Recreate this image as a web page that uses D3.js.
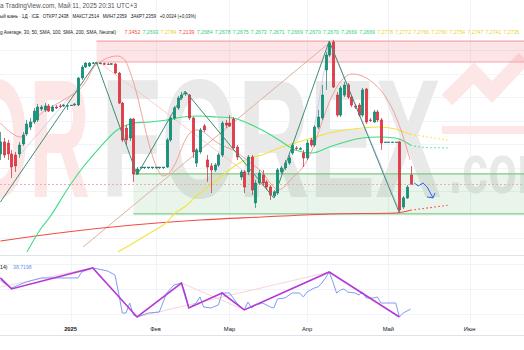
<!DOCTYPE html>
<html>
<head>
<meta charset="utf-8">
<script src="https://cdn.jsdelivr.net/npm/d3@7/dist/d3.min.js"></script>
<style>
  body { margin: 0; background: #fff; }
  svg { display: block; font-family: "Liberation Sans", Arial, sans-serif; }
</style>
</head>
<body>
<svg width="524" height="350"></svg>
<script>
// daily bars, 4 Dec 2024 .. 9 May 2025 (flat bars = Chinese holidays)
const open = [7.2617,7.2719,7.2710,7.2617,7.2608,7.2617,7.2702,7.2787,7.2846,7.2889,7.2906,7.2999,7.2991,7.3025,7.2982,7.3016,7.3025,7.3025,7.3025,7.3033,
  7.3033,7.3033,7.3263,7.3356,7.3365,7.3390,7.3392,7.3388,7.3385,7.3382,7.3382,7.3382,7.3305,7.3050,7.2838,7.2753,7.2914,7.2447,7.2506,7.2506,
  7.2506,7.2506,7.2506,7.2506,7.2506,7.2506,7.2736,7.2923,7.3008,7.3093,7.3127,7.3118,7.2923,7.2540,7.2634,7.2855,7.2566,7.2515,7.2481,7.2523,
  7.2608,7.2880,7.2880,7.2914,7.2676,7.2421,7.2464,7.2464,7.2591,7.2200,7.2370,7.2438,7.2379,7.2336,7.2260,7.2285,7.2464,7.2498,7.2540,7.2625,
  7.2668,7.2659,7.2625,7.2583,7.2736,7.2693,7.2846,7.2923,7.3331,7.3458,7.3569,7.3118,7.2948,7.3118,7.3203,7.3101,7.3025,7.3033,7.2948,7.3169,
  7.2906,7.2889,7.2974,7.2906,7.2719,7.2719,7.2719,7.2719,7.2719,7.2166,7.2243,7.2438];
const high = [7.2804,7.2753,7.2736,7.2651,7.2634,7.2719,7.2804,7.2906,7.2923,7.3008,7.3042,7.3033,7.3050,7.3042,7.3033,7.3033,7.3042,7.3042,7.3042,7.3033,
  7.3050,7.3271,7.3373,7.3399,7.3399,7.3399,7.3399,7.3395,7.3393,7.3392,7.3390,7.3390,7.3314,7.3059,7.2863,7.2923,7.2923,7.2506,7.2506,7.2506,
  7.2506,7.2506,7.2506,7.2506,7.2506,7.2753,7.2940,7.3025,7.3110,7.3144,7.3152,7.3127,7.2931,7.2668,7.2838,7.2872,7.2608,7.2540,7.2540,7.2625,
  7.2897,7.2906,7.2948,7.2931,7.2693,7.2481,7.2481,7.2608,7.2608,7.2396,7.2481,7.2481,7.2396,7.2353,7.2311,7.2498,7.2515,7.2566,7.2608,7.2710,
  7.2685,7.2676,7.2651,7.2736,7.2753,7.2863,7.2991,7.3203,7.3484,7.3577,7.3586,7.3144,7.3195,7.3229,7.3220,7.3118,7.3042,7.3050,7.3178,7.3178,
  7.2923,7.2991,7.2991,7.2923,7.2719,7.2719,7.2719,7.2719,7.2727,7.2260,7.2353,7.2514];
const low = [7.2566,7.2583,7.2566,7.2413,7.2464,7.2583,7.2685,7.2770,7.2821,7.2872,7.2889,7.2982,7.2974,7.2974,7.2974,7.2999,7.3008,7.3016,7.2991,7.3033,
  7.3025,7.3025,7.3246,7.3348,7.3356,7.3382,7.3382,7.3380,7.3375,7.3373,7.3373,7.3297,7.3042,7.2719,7.2685,7.2727,7.2379,7.2438,7.2489,7.2489,
  7.2489,7.2489,7.2489,7.2489,7.2489,7.2498,7.2719,7.2906,7.2991,7.3076,7.3110,7.2906,7.2583,7.2506,7.2617,7.2804,7.2379,7.2285,7.2464,7.2506,
  7.2591,7.2838,7.2846,7.2651,7.2566,7.2396,7.2285,7.2438,7.2268,7.2157,7.2353,7.2345,7.2311,7.2226,7.2243,7.2268,7.2447,7.2481,7.2523,7.2608,
  7.2651,7.2651,7.2506,7.2566,7.2676,7.2676,7.2829,7.2906,7.3161,7.3441,7.3178,7.2931,7.2931,7.3101,7.3084,7.3016,7.2999,7.2931,7.2931,7.2872,
  7.2889,7.2880,7.2889,7.2651,7.2712,7.2712,7.2712,7.2712,7.2115,7.2149,7.2234,7.2359];
const close = [7.2719,7.2608,7.2617,7.2506,7.2515,7.2693,7.2778,7.2872,7.2889,7.2982,7.3016,7.3016,7.3025,7.2982,7.3016,7.3008,7.3022,7.3033,7.3028,7.3033,
  7.3042,7.3263,7.3356,7.3390,7.3390,7.3392,7.3388,7.3390,7.3382,7.3380,7.3384,7.3305,7.3050,7.2736,7.2736,7.2914,7.2447,7.2489,7.2506,7.2506,
  7.2506,7.2506,7.2506,7.2506,7.2506,7.2736,7.2923,7.3008,7.3093,7.3118,7.3135,7.2923,7.2634,7.2651,7.2821,7.2821,7.2506,7.2481,7.2523,7.2608,
  7.2880,7.2863,7.2855,7.2668,7.2591,7.2464,7.2336,7.2591,7.2311,7.2370,7.2455,7.2370,7.2336,7.2268,7.2294,7.2481,7.2498,7.2540,7.2583,7.2693,
  7.2665,7.2662,7.2583,7.2710,7.2693,7.2846,7.2931,7.3118,7.3458,7.3560,7.3186,7.2948,7.3178,7.3203,7.3101,7.3033,7.3016,7.2948,7.3161,7.2889,
  7.2903,7.2974,7.2906,7.2710,7.2719,7.2719,7.2719,7.2719,7.2141,7.2243,7.2335,7.2359];

const monthLabels = ["2025", "Фев", "Мар", "Апр", "Май", "Июн"];
const monthBars = [19, 42, 62, 83, 105, 127];

// moving averages: [bar, price]
const maFast = [[0,7.2880],[3.4,7.2787],[5.3,7.2761],[8.8,7.2889],[11.5,7.2974],[13.4,7.3008],[18,7.3093],[20.7,7.3144],[23.4,7.3246],[25.1,7.3348],
  [27,7.3399],[29.7,7.3441],[31.6,7.3450],[33.7,7.3416],[35.1,7.3314],[37,7.3118],[38.6,7.2906],[40.5,7.2668],[42.4,7.2498],[44,7.2430],
  [45.9,7.2464],[47.8,7.2566],[49.4,7.2693],[51.3,7.2795],[53.2,7.2821],[54.9,7.2804],[57.6,7.2736],[60.3,7.2685],[63,7.2651],[65.7,7.2591],
  [68.4,7.2523],[70.8,7.2464],[73.5,7.2353],[75.2,7.2311],[77.1,7.2345],[79,7.2413],[81.7,7.2498],[84.4,7.2651],[86.5,7.2838],[88.7,7.3033],
  [91.4,7.3203],[93.3,7.3271],[95.2,7.3297],[97.9,7.3280],[100.6,7.3229],[103.3,7.3144],[106,7.3008],[108.7,7.2795],[110.9,7.2566]];
const ma30 = [[7.2,7.1784],[10.7,7.1971],[13.4,7.2081],[18,7.2311],[22.4,7.2506],[27,7.2676],[31.6,7.2821],[34.3,7.2863],[35.9,7.2880],[40.5,7.2889],
  [45.1,7.2906],[49.4,7.2931],[54,7.2940],[58.7,7.2931],[63,7.2923],[66.8,7.2880],[70.8,7.2821],[75.4,7.2736],[79.8,7.2651],[84.4,7.2625],
  [89,7.2676],[93.3,7.2719],[97.9,7.2753],[102.5,7.2761],[106.9,7.2753],[111,7.2693]];
const ma50 = [[31.8,7.1784],[40.5,7.1945],[45.1,7.2039],[47.3,7.2115],[49.4,7.2157],[54,7.2285],[58.7,7.2396],[63,7.2506],[67.6,7.2583],[70.8,7.2608],
  [75.4,7.2668],[79.8,7.2710],[84.4,7.2753],[89,7.2795],[93.3,7.2821],[97.9,7.2838],[102.5,7.2846],[106.9,7.2829],[111,7.2784]];
const ma200 = [[0,7.1877],[18,7.1954],[35.9,7.2013],[54,7.2056],[70.8,7.2081],[89,7.2107],[106.9,7.2115],[111,7.2139]];
const ma30Proj = [7.2693,7.2684,7.2678,7.2675,7.2673,7.2671,7.2669,7.2670,7.2670,7.2669,7.2669];
const ma50Proj = [7.2784,7.2778,7.2772,7.2766,7.2760,7.2754,7.2747,7.2741,7.2735];
const ma200Proj = [[111,7.2139],[121,7.2180]];

const zigzag = [[0,7.2209],[26,7.3399],[37,7.2438],[50,7.3152],[74,7.2243],[89,7.3577],[108,7.2115]];
const zigzagThin = [[[5,7.2600],[22,7.3220]],[[85,7.2846],[89,7.3577],[108,7.2141]]];
const trendTan = [[22.4,7.1826],[89.3,7.3569]];
const trendPink = [[27,7.3390],[73,7.2302]];
const forecast = [[112,7.2370],[113.1,7.2345],[114.4,7.2370],[115.5,7.2336],[117.1,7.2243]];
const supplyZone = { from: 26, top: 7.3577, bottom: 7.3399 };
const demandZone = { from: 36, top: 7.2447, bottom: 7.2107 };
const lastPrice = 7.2359;

// lower pane
const osc = [[0,62.3],[1,59.9],[3,55.9],[7,60.7],[11,64.0],[14,64.0],[18,64.0],[21,64.0],[22,68.8],[25,72.1],[29,69.6],[31,66.4],[32,51.8],[33,35.6],
  [34,35.6],[35,43.7],[36,34.0],[37,32.4],[40,35.6],[43,36.4],[45,51.8],[47,58.3],[49,59.9],[50,51.8],[51,39.7],[53,43.7],[54,48.6],[55,40.5],
  [57,39.7],[59,42.1],[60,51.8],[62,51.8],[64,43.7],[66,38.1],[67,44.5],[68,39.7],[69,42.1],[71,43.7],[73,40.5],[74,39.7],[75,47.0],[77,47.8],
  [79,51.8],[81,51.8],[82,48.6],[83,52.6],[85,55.9],[86,56.7],[87,59.9],[88,64.0],[89,68.8],[90,60.7],[91,51.8],[92,54.2],[93,55.1],[94,52.6],
  [96,51.8],[97,50.2],[98,52.6],[99,47.8],[101,47.8],[102,48.6],[103,43.7],[104,43.7],[107,43.7],[108,32.4],[109,35.6],[111,38.7198]];
const oscZigzag = [[0,64.0],[3,55.1],[25,72.1],[37,32.4],[49,59.9],[51,39.7],[60,51.8],[66,38.1],[89,68.8],[108,32.4]];
const oscLines = [[[0,56.7],[25,72.1]],[[37,32.4],[89,68.8]],[[49,59.9],[66,38.1]]];

const svg = d3.select("svg");
const W = 524, mainBottom = 255, oscTop = 256, oscBottom = 322, axisBottom = 335;

const x = d3.scaleLinear().domain([0, 111]).range([0.4, 410.5]);
const y = d3.scaleLinear().domain([7.2115, 7.3586]).range([213, 40]);
const yo = d3.scaleLinear().domain([17, 85]).range([336, 252]);

const defs = svg.append("defs");
defs.append("clipPath").attr("id", "clipMain").append("rect").attr("width", W).attr("height", mainBottom);
defs.append("clipPath").attr("id", "clipOsc").append("rect").attr("y", oscTop).attr("width", W).attr("height", oscBottom - oscTop);

// grid
const grid = svg.append("g").attr("stroke", "#f0f3fa").attr("stroke-width", 1);
monthBars.forEach(b => grid.append("line").attr("x1", Math.round(x(b)) + 0.5).attr("x2", Math.round(x(b)) + 0.5).attr("y1", 0).attr("y2", oscBottom));
[7.35, 7.33, 7.31, 7.29, 7.27, 7.25, 7.23, 7.21, 7.19].forEach(p =>
  grid.append("line").attr("x1", 0).attr("x2", W).attr("y1", Math.round(y(p)) + 0.5).attr("y2", Math.round(y(p)) + 0.5));
[75, 55, 35].forEach(v =>
  grid.append("line").attr("x1", 0).attr("x2", W).attr("y1", Math.round(yo(v)) + 0.5).attr("y2", Math.round(yo(v)) + 0.5));

// watermark (logo)
const wm = svg.append("g").attr("font-weight", "bold");
wm.append("text").attr("x", -36).attr("y", 197).attr("font-size", 168)
  .attr("fill", "#fce6e6").attr("textLength", 126).attr("lengthAdjust", "spacingAndGlyphs").text("OR");
wm.append("text").attr("x", 101).attr("y", 197).attr("font-size", 168)
  .attr("fill", "#e9e9e9").attr("textLength", 340).attr("lengthAdjust", "spacingAndGlyphs").text("FOREX");
wm.append("text").attr("x", 449).attr("y", 193).attr("font-size", 70)
  .attr("fill", "#e9e9e9").attr("textLength", 110).attr("lengthAdjust", "spacingAndGlyphs").text(".com");
wm.append("polyline").attr("points", [[447, 100], [474, 73], [492, 92], [524, 58]].map(p => p.join(",")).join(" "))
  .attr("fill", "none").attr("stroke", "#fce6e6").attr("stroke-width", 15);
wm.append("rect").attr("x", 442).attr("y", 126).attr("width", 82).attr("height", 8).attr("fill", "#fce6e6");

const main = svg.append("g").attr("clip-path", "url(#clipMain)");

// zones
[[supplyZone, "rgba(242,54,69,0.13)", "#f4a3aa"], [demandZone, "rgba(76,175,80,0.12)", "#81c784"]].forEach(([z, fill, edge]) => {
  main.append("rect").attr("x", x(z.from)).attr("y", y(z.top)).attr("width", W - x(z.from))
    .attr("height", y(z.bottom) - y(z.top)).attr("fill", fill);
  [z.top, z.bottom].forEach(p => main.append("line").attr("x1", x(z.from)).attr("x2", W)
    .attr("y1", y(p)).attr("y2", y(p)).attr("stroke", edge).attr("stroke-width", 1.2));
});

// last price line
main.append("line").attr("x1", 0).attr("x2", W).attr("y1", Math.round(y(lastPrice)) + 0.5).attr("y2", Math.round(y(lastPrice)) + 0.5)
  .attr("stroke", "#f7a9b0").attr("stroke-dasharray", "2,2");

const line = d3.line().x(d => x(d[0])).y(d => y(d[1]));
const curve = d3.line().x(d => x(d[0])).y(d => y(d[1])).curve(d3.curveMonotoneX);

main.append("path").attr("d", line(trendTan)).attr("fill", "none").attr("stroke", "#dcb29c").attr("stroke-width", 1);
main.append("path").attr("d", line(trendPink)).attr("fill", "none").attr("stroke", "#f6c2c2").attr("stroke-width", 0.8);
zigzagThin.forEach(seg => main.append("path").attr("d", line(seg)).attr("fill", "none").attr("stroke", "#c8c6ee").attr("stroke-width", 0.8));

main.append("path").attr("d", curve(ma200)).attr("fill", "none").attr("stroke", "#f44b45").attr("stroke-width", 1.1);
main.append("path").attr("d", curve(ma50)).attr("fill", "none").attr("stroke", "#f4e23c").attr("stroke-width", 1.1);
main.append("path").attr("d", curve(ma30)).attr("fill", "none").attr("stroke", "#3ddc84").attr("stroke-width", 1.1);
main.append("path").attr("d", curve(maFast)).attr("fill", "none").attr("stroke", "#f5968f").attr("stroke-width", 0.9);

main.append("path").attr("d", line(ma30Proj.map((v, i) => [111 + i, v]))).attr("fill", "none")
  .attr("stroke", "#3ddc84").attr("stroke-width", 1.1).attr("stroke-dasharray", "1.5,2.5");
main.append("path").attr("d", line(ma50Proj.map((v, i) => [111 + i * 1.25, v]))).attr("fill", "none")
  .attr("stroke", "#f4e23c").attr("stroke-width", 1.1).attr("stroke-dasharray", "1.5,2.5");
main.append("path").attr("d", line(ma200Proj)).attr("fill", "none")
  .attr("stroke", "#f44b45").attr("stroke-width", 1.1).attr("stroke-dasharray", "1.5,2.5");

// candles
const bars = d3.range(open.length);
const up = i => close[i] >= open[i];
const cg = main.append("g");
cg.selectAll("line").data(bars).join("line")
  .attr("x1", i => Math.round(x(i)) + 0.5).attr("x2", i => Math.round(x(i)) + 0.5)
  .attr("y1", i => y(high[i])).attr("y2", i => y(low[i]))
  .attr("stroke", i => up(i) ? "#2e8a76" : "#c8414b").attr("stroke-width", 0.8);
cg.selectAll("rect").data(bars).join("rect")
  .attr("x", i => Math.round(x(i)) - 0.8).attr("width", 2.6)
  .attr("y", i => y(Math.max(open[i], close[i])))
  .attr("height", i => Math.max(0.8, Math.abs(y(open[i]) - y(close[i]))))
  .attr("fill", i => up(i) ? "#089981" : "#f23645")
  .attr("stroke", i => up(i) ? "#1f6e5e" : "#a8323c").attr("stroke-width", 0.4);

// zigzag
main.append("path").attr("d", line(zigzag)).attr("fill", "none").attr("stroke", "#3e8e74").attr("stroke-width", 1);

// forecast arrow
const fc = forecast.map(d => [x(d[0]), y(d[1])]);
main.append("path").attr("d", d3.line()(fc)).attr("fill", "none").attr("stroke", "#2962ff").attr("stroke-width", 1);
const [ax, ay] = fc[fc.length - 1];
main.append("path").attr("d", `M${ax - 6},${ay - 1} L${ax},${ay} L${ax + 2},${ay - 5}`)
  .attr("fill", "none").attr("stroke", "#2962ff").attr("stroke-width", 1);

// lower pane
const og = svg.append("g").attr("clip-path", "url(#clipOsc)");
const oline = d3.line().x(d => x(d[0])).y(d => yo(d[1]));
oscLines.forEach(seg => og.append("path").attr("d", oline(seg)).attr("fill", "none").attr("stroke", "#f6c9c9").attr("stroke-width", 0.8));
og.append("path").attr("d", oline(osc)).attr("fill", "none").attr("stroke", "#7f9cf5").attr("stroke-width", 1);
og.append("path").attr("d", oline(oscZigzag)).attr("fill", "none").attr("stroke", "#b43ad6").attr("stroke-width", 1.6);

svg.append("line").attr("x1", 0).attr("x2", W).attr("y1", oscTop - 0.5).attr("y2", oscTop - 0.5).attr("stroke", "#e0e3eb");
svg.append("line").attr("x1", 0).attr("x2", W).attr("y1", axisBottom + 0.5).attr("y2", axisBottom + 0.5).attr("stroke", "#e0e3eb");

svg.append("text").attr("x", 0).attr("y", 269).attr("font-size", 5.2).attr("fill", "#131722").text("14)");
svg.append("text").attr("x", 13).attr("y", 269).attr("font-size", 5.2).attr("fill", "#6f8ff2").text("38,7198");

// time axis
svg.append("g").selectAll("text").data(monthLabels).join("text")
  .attr("x", (d, i) => x(monthBars[i])).attr("y", 331).attr("text-anchor", "middle")
  .attr("font-size", 5.8).attr("fill", "#131722").attr("font-weight", (d, i) => i === 0 ? "bold" : "normal").text(d => d);

// legend
const hdr = svg.append("g").attr("fill", "#131722");
hdr.append("text").attr("x", 0).attr("y", 7.5).attr("font-size", 6.4).attr("fill", "#50535e")
  .attr("textLength", 137).attr("lengthAdjust", "spacingAndGlyphs").text("а TradingView.com, Май 11, 2025 20:31 UTC+3");
hdr.append("text").attr("x", 0).attr("y", 17.5).attr("font-size", 5.2).attr("xml:space", "preserve")
  .attr("textLength", 196).attr("lengthAdjust", "spacingAndGlyphs")
  .text("ый юань · 1Д · ICE   ОТКР7,2438   МАКС7,2514   МИН7,2359   ЗАКР7,2359   +0,0024 (+0,03%)");
hdr.append("text").attr("x", 0).attr("y", 34).attr("font-size", 5.2)
  .attr("textLength", 116).attr("lengthAdjust", "spacingAndGlyphs")
  .text("g Average, 30, 50, SMA, 100, SMA, 200, SMA, Neutral)");
const legendVals = ["7,3452", "7,2693", "7,2784", "7,2139", "7,2684", "7,2678", "7,2675", "7,2673", "7,2671", "7,2669", "7,2670",
  "7,2670", "7,2669", "7,2669", "7,2778", "7,2772", "7,2766", "7,2760", "7,2754", "7,2747", "7,2741", "7,2735"];
const legendCols = i => i === 0 || i === 3 ? "#f44b45" : i === 2 || i >= 14 ? "#e8d22c" : "#35d07a";
hdr.selectAll("text.v").data(legendVals).join("text").attr("class", "v")
  .attr("x", (d, i) => 124.5 + i * 18.05).attr("y", 34).attr("font-size", 5.2).attr("fill", (d, i) => legendCols(i)).text(d => d);
</script>
</body>
</html>
